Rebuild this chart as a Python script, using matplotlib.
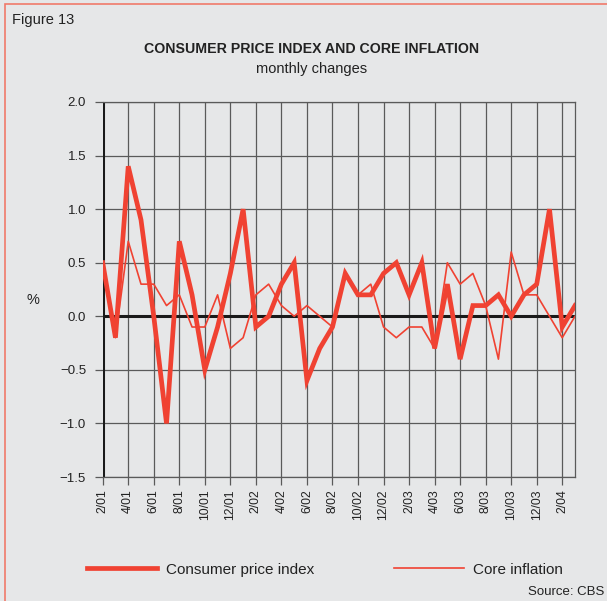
import matplotlib
matplotlib.use("Agg")
import matplotlib.pyplot as plt
from matplotlib.patches import Rectangle

plt.rcParams['font.family'] = ['Liberation Sans', 'DejaVu Sans']

# monthly data, 2/01 .. 3/04
months = ['2/01', '3/01', '4/01', '5/01', '6/01', '7/01', '8/01', '9/01', '10/01', '11/01', '12/01', '1/02',
          '2/02', '3/02', '4/02', '5/02', '6/02', '7/02', '8/02', '9/02', '10/02', '11/02', '12/02', '1/03',
          '2/03', '3/03', '4/03', '5/03', '6/03', '7/03', '8/03', '9/03', '10/03', '11/03', '12/03', '1/04',
          '2/04', '3/04']
cpi = [0.5, -0.2, 1.4, 0.9, 0.0, -1.0, 0.7, 0.2, -0.5, -0.1, 0.4, 1.0,
       -0.1, 0.0, 0.3, 0.5, -0.6, -0.3, -0.1, 0.4, 0.2, 0.2, 0.4, 0.5,
       0.2, 0.5, -0.3, 0.3, -0.4, 0.1, 0.1, 0.2, 0.0, 0.2, 0.3, 1.0,
       -0.1, 0.1]
core = [0.5, -0.2, 0.7, 0.3, 0.3, 0.1, 0.2, -0.1, -0.1, 0.2, -0.3, -0.2,
        0.2, 0.3, 0.1, 0.0, 0.1, 0.0, -0.1, 0.4, 0.2, 0.3, -0.1, -0.2,
        -0.1, -0.1, -0.3, 0.5, 0.3, 0.4, 0.1, -0.4, 0.6, 0.2, 0.2, 0.0,
        -0.2, 0.0]
yticks = [-1.5, -1.0, -0.5, 0.0, 0.5, 1.0, 1.5, 2.0]

bg = '#e6e7e8'
red = '#f04232'
grid = '#5a5a5a'

fig = plt.figure(figsize=(6.07, 6.01), dpi=100, facecolor=bg)
ax = fig.add_axes([0.1692, 0.2063, 0.7781, 0.6240])
ax.set_facecolor(bg)

x = list(range(len(months)))
ax.plot(x, cpi, color=red, lw=3.4, solid_joinstyle='miter', zorder=4, label='Consumer price index')
ax.plot(x, core, color=red, lw=1.2, zorder=4, label='Core inflation')

ax.set_xlim(0, len(months) - 1)
ax.set_ylim(-1.5, 2.0)
ax.set_yticks(yticks)
ax.set_yticklabels(['%.1f' % v if v >= 0 else '\u2212%.1f' % -v for v in yticks])
ax.set_xticks(x[::2])
ax.set_xticklabels(months[::2], rotation=90)

ax.grid(True, color=grid, lw=0.9, zorder=1)
ax.axhline(0, color='#1a1a1a', lw=2.2, zorder=2)
ax.axvline(0, color='#1a1a1a', lw=2.2, zorder=2)
for s in ['top', 'right', 'bottom']:
    ax.spines[s].set_color(grid)
    ax.spines[s].set_linewidth(0.9)
ax.spines['left'].set_visible(False)
ax.tick_params(axis='both', direction='out', length=6, width=0.9, color=grid,
               labelcolor='#222222')
ax.tick_params(axis='y', pad=6, labelsize=9.5)
ax.tick_params(axis='x', pad=3, labelsize=8.8)

ax.set_ylabel('%', rotation=0, fontsize=10.5, color='#222222', va='center', ha='center')
ax.yaxis.set_label_coords(-0.148, 0.472)

fig.text(0.02, 0.967, 'Figure 13', fontsize=10.5, color='#222222', va='center')
fig.text(0.514, 0.919, 'CONSUMER PRICE INDEX AND CORE INFLATION', fontsize=10.2,
         fontweight='bold', color='#222222', ha='center', va='center')
fig.text(0.514, 0.886, 'monthly changes', fontsize=10.5, color='#222222', ha='center', va='center')
fig.text(0.995, 0.015, 'Source: CBS', fontsize=9.5, color='#222222', ha='right', va='center')

leg = fig.legend(loc='center', bbox_to_anchor=(0.535, 0.052), ncol=2, frameon=False,
                 fontsize=11, handlelength=4.6, handletextpad=0.6, columnspacing=5.2)
for t in leg.get_texts():
    t.set_color('#222222')

fig.add_artist(Rectangle((5 / 607, -0.5), 2, 0.5 + 1 - 4 / 601, transform=fig.transFigure,
                         fill=False, edgecolor='#f07a6a', lw=1.2))

fig.savefig('out.png', dpi=100, facecolor=bg)
